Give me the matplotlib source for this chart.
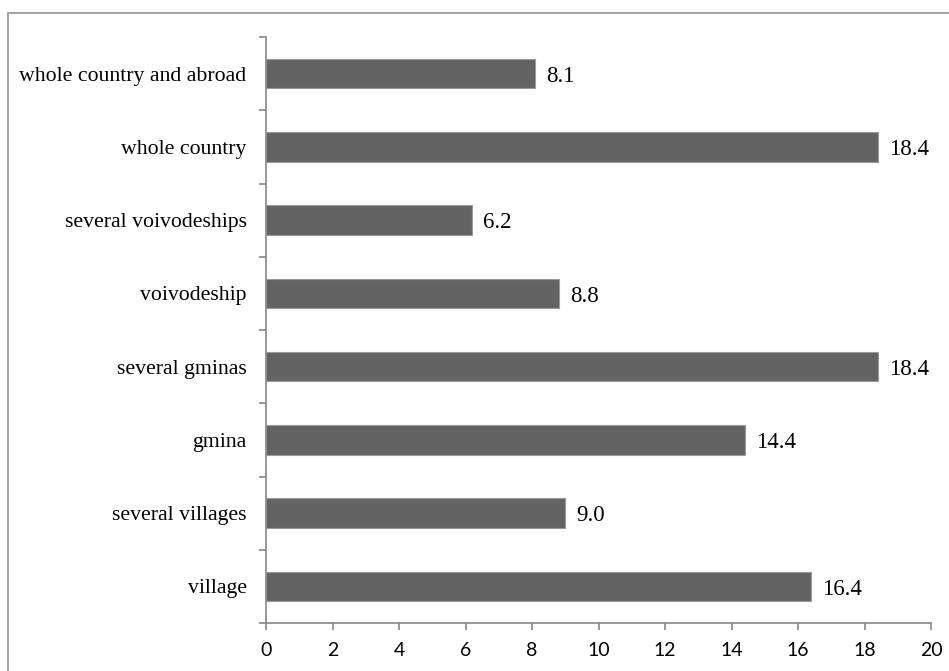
import numpy as np
import matplotlib.pyplot as plt
from matplotlib.patches import Rectangle

# categories bottom -> top
categories = ['village', 'several villages', 'gmina', 'several gminas',
              'voivodeship', 'several voivodeships', 'whole country',
              'whole country and abroad']
values = [16.4, 9.0, 14.4, 18.4, 8.8, 6.2, 18.4, 8.1]
xticks = [0, 2, 4, 6, 8, 10, 12, 14, 16, 18, 20]

serif = ['Liberation Serif', 'DejaVu Serif']
sans = ['Lato', 'DejaVu Sans']
spine_col = '#868686'

fig = plt.figure(figsize=(9.49, 6.71), dpi=100)
# outer chart border
fig.patches.append(Rectangle((8 / 949, -0.05), 1.1, 1 - 13 / 671 + 0.05,
                             transform=fig.transFigure, fill=False,
                             edgecolor='#a6a6a6', linewidth=1.5))

ax = fig.add_axes([266 / 949, 48 / 671, 665 / 949, 586 / 671])
y = np.arange(len(categories))
ax.barh(y, values, height=0.4, color='#636363', edgecolor='#9a9a9a', linewidth=0.8)

# value labels right of each bar
for yi, v in zip(y, values):
    ax.annotate(f'{v:.1f}', (v, yi), xytext=(8, -2), textcoords='offset points',
                va='center', ha='left', fontsize=16.5, family=serif, color='black')

ax.set_xlim(0, 20)
ax.set_ylim(-0.5, len(categories) - 0.5)
ax.set_xticks(xticks)
ax.set_xticklabels([str(t) for t in xticks], family=sans, fontsize=14)

ax.set_yticks(y)
ax.set_yticklabels(categories, family=serif, fontsize=15.7)
ax.tick_params(axis='y', which='major', length=0, pad=14)
ax.set_yticks(np.arange(-0.5, len(categories)), minor=True)
ax.tick_params(axis='y', which='minor', length=5, color=spine_col, width=1.2)
ax.tick_params(axis='x', length=5, color=spine_col, width=1.2, pad=9)

for s in ['top', 'right']:
    ax.spines[s].set_visible(False)
for s in ['left', 'bottom']:
    ax.spines[s].set_color(spine_col)
    ax.spines[s].set_linewidth(1.2)

fig.savefig('out.png', dpi=100)
